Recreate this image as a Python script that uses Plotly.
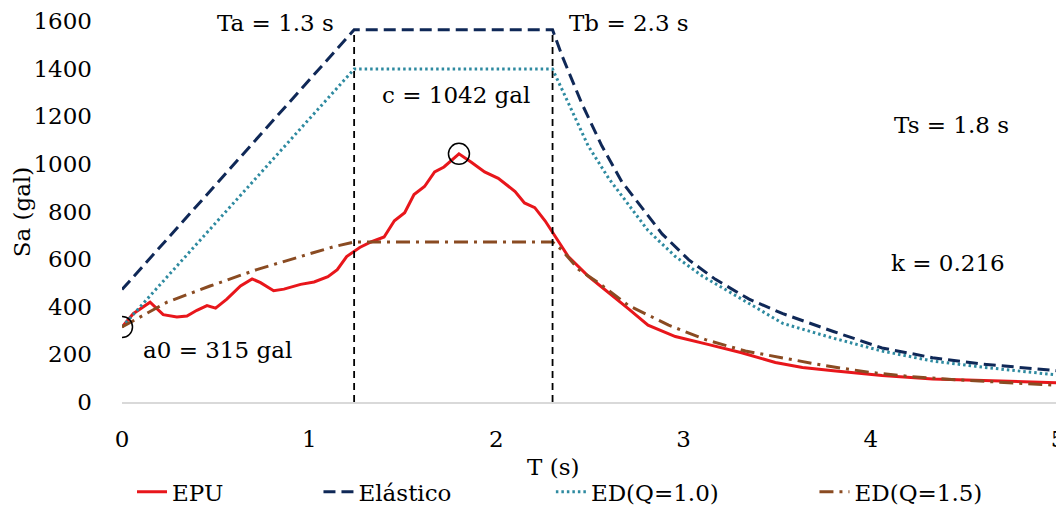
import plotly.graph_objects as go

# Periodo T (s) y aceleracion espectral Sa (gal)
t_epu = [0, 0.06, 0.15, 0.177, 0.22, 0.293, 0.347, 0.40, 0.454, 0.50, 0.56, 0.633,
         0.695, 0.74, 0.81, 0.865, 0.954, 1.026, 1.10, 1.15, 1.20, 1.27, 1.33, 1.40,
         1.455, 1.51, 1.56, 1.616, 1.67, 1.72, 1.80, 1.866, 1.937, 2.01, 2.10, 2.15,
         2.205, 2.26, 2.304, 2.384, 2.49, 2.60, 2.706, 2.81, 2.956, 3.135, 3.31, 3.49,
         3.635, 3.80, 4.06, 4.33, 4.60, 5.0]
sa_epu = [315, 371, 419, 398, 367, 357, 361, 385, 405, 394, 432, 487,
          517, 501, 467, 474, 494, 504, 526, 556, 611, 649, 672, 693,
          761, 795, 871, 905, 966, 987, 1042, 1007, 966, 939, 884, 836,
          816, 761, 706, 611, 529, 460, 391, 323, 275, 241, 207, 166,
          145, 131, 111, 97, 90, 81]

t_elastico = [0, 1.24, 2.30, 2.35, 2.456, 2.563, 2.67, 2.777, 2.885, 3.028, 3.17,
              3.35, 3.53, 3.80, 4.06, 4.33, 4.60, 5.0]
sa_elastico = [472, 1563, 1563, 1455, 1254, 1076, 925, 816, 706, 597, 515,
               432, 371, 296, 227, 186, 159, 131]

t_q10 = [0, 1.24, 2.30, 2.384, 2.49, 2.60, 2.706, 2.81, 2.956, 3.10, 3.28, 3.53,
         3.80, 4.06, 4.33, 4.60, 5.0]
sa_q10 = [315, 1398, 1398, 1254, 1076, 939, 830, 720, 611, 529, 446, 330,
          268, 214, 172, 146, 113]

t_q15 = [0, 0.24, 0.47, 0.72, 0.954, 1.13, 1.24, 2.30, 2.35, 2.44, 2.545, 2.706,
         2.92, 3.117, 3.33, 3.53, 3.76, 3.99, 4.21, 4.46, 4.69, 5.0]
sa_q15 = [315, 419, 487, 556, 611, 652, 672, 672, 638, 556, 501, 405,
          323, 262, 214, 186, 152, 125, 107, 93, 83, 70]

# Periodos de esquina y puntos marcados
t_esquinas = [1.24, 2.30]
sa_tope = 1563
t_marcas = [0, 1.80]
sa_marcas = [315, 1042]

FONT = "DejaVu Serif"
FS = 23

series = [
    ("EPU", t_epu, sa_epu, dict(color="#E8161B", width=3), 0.0107),
    ("Elástico", t_elastico, sa_elastico, dict(color="#0F2857", width=3, dash="12px,6px"), 0.2099),
    ("ED(Q=1.0)", t_q10, sa_q10, dict(color="#2E8AA0", width=3, dash="2.5px,3px"), 0.4582),
    ("ED(Q=1.5)", t_q15, sa_q15, dict(color="#8A4B22", width=3, dash="14px,6px,3px,6px"), 0.7398),
]

fig = go.Figure()
leg = {}
for i, (name, xs, ys, ln, lx) in enumerate(series):
    key = "legend" if i == 0 else f"legend{i + 1}"
    fig.add_trace(go.Scatter(x=xs, y=ys, mode="lines", name=name, line=ln,
                             legend=key))
    leg[key] = dict(x=lx, xanchor="left", y=-0.236, yanchor="middle",
                    orientation="h", bgcolor="rgba(0,0,0,0)",
                    font=dict(family=FONT, size=FS, color="black"))

# lineas verticales Ta y Tb
for t in t_esquinas:
    fig.add_trace(go.Scatter(x=[t, t], y=[0, sa_tope], mode="lines", showlegend=False,
                             line=dict(color="black", width=1.8, dash="7px,5px"),
                             hoverinfo="skip"))

# circulos en a0 y c
fig.add_trace(go.Scatter(x=t_marcas, y=sa_marcas, mode="markers", showlegend=False,
                         marker=dict(symbol="circle-open", size=21, color="black",
                                     line=dict(color="black", width=1.5))))

textos = [
    ("Ta = 1.3 s", 0.818, 1590),
    ("Tb = 2.3 s", 2.71, 1590),
    ("c = 1042 gal", 1.785, 1289),
    ("Ts = 1.8 s", 4.43, 1163),
    ("k = 0.216", 4.41, 584),
    ("a0 = 315 gal", 0.51, 218),
]
for txt, x, y in textos:
    fig.add_annotation(x=x, y=y, text=txt, showarrow=False, xanchor="center",
                       yanchor="middle", font=dict(family=FONT, size=FS, color="black"))

# titulos de ejes como anotaciones
fig.add_annotation(x=2.30, y=-0.171, xref="x", yref="paper", text="T (s)",
                   showarrow=False, xanchor="center", yanchor="middle",
                   font=dict(family=FONT, size=FS, color="black"))
fig.add_annotation(x=-0.107, y=0.5, xref="paper", yref="paper", text="Sa (gal)",
                   textangle=-90, showarrow=False, xanchor="center", yanchor="middle",
                   font=dict(family=FONT, size=FS, color="black"))

# la pagina tiene 8 px de margen en el body
fig.update_layout(
    width=1056, height=502,
    margin=dict(l=114, r=6, t=13, b=108, autoexpand=False),
    paper_bgcolor="white", plot_bgcolor="white",
    font=dict(family=FONT, size=FS, color="black"),
    showlegend=True,
    **leg,
)
fig.update_xaxes(range=[0, 5], tickvals=[0, 1, 2, 3, 4, 5], showgrid=False,
                 zeroline=False, showline=True, linecolor="#D9D9D9", linewidth=1.5,
                 ticks="", ticklabelstandoff=16, ticklabeloverflow="allow")
fig.update_yaxes(range=[0, 1600], dtick=200, showgrid=False, zeroline=False,
                 showline=False, ticks="", ticklabelstandoff=29,
                 ticklabeloverflow="allow")

fig.write_html("out.html")
